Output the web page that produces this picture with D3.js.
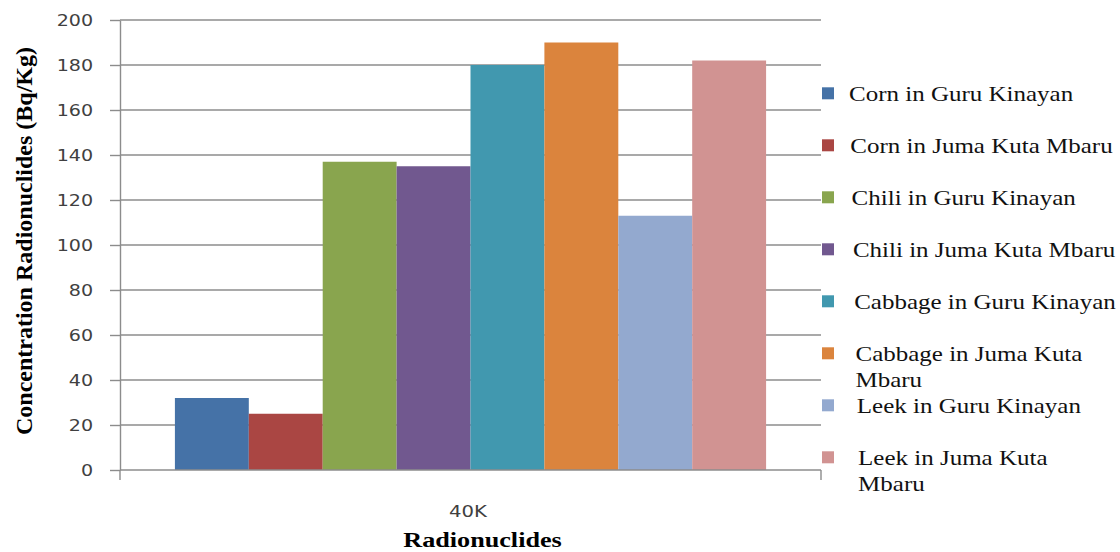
<!DOCTYPE html>
<html>
<head>
<meta charset="utf-8">
<script src="https://cdn.jsdelivr.net/npm/d3@7/dist/d3.min.js"></script>
<style>
  html, body { margin: 0; padding: 0; background: #fff; }
  svg { display: block; }
</style>
</head>
<body>
<svg id="chart" width="1120" height="552"></svg>
<script>
// Radionuclide concentration (40K) in crops from two villages
const categories = ["40K"];
const seriesNames = [
  "Corn in Guru Kinayan",
  "Corn in Juma Kuta Mbaru",
  "Chili in Guru Kinayan",
  "Chili in Juma Kuta Mbaru",
  "Cabbage in Guru Kinayan",
  "Cabbage in Juma Kuta Mbaru",
  "Leek in Guru Kinayan",
  "Leek in Juma Kuta Mbaru"
];
const values40K = [32, 25, 137, 135, 180, 190, 113, 182];
const yTicks = [0, 20, 40, 60, 80, 100, 120, 140, 160, 180, 200];
const seriesColors = ["#4572A7", "#AA4643", "#89A54E", "#71588F",
                      "#4198AF", "#DB843D", "#93A9CF", "#D19392"];

const svg = d3.select("#chart");
const plot = { left: 120, right: 821, top: 20, bottom: 470 };
const sx = 1.19;               // horizontal widening of the type
const gridColor = "#8c8c8c";
const serif = "'Liberation Serif', 'Times New Roman', serif";
const sans = "'DejaVu Sans', Verdana, sans-serif";

const y = d3.scaleLinear().domain([0, 200]).range([plot.bottom, plot.top]);
const x0 = d3.scaleBand().domain(categories).range([plot.left, plot.right])
  .paddingInner(0).paddingOuter(0);
const x1 = d3.scaleBand().domain(seriesNames).range([0, x0.bandwidth()])
  .paddingInner(0).paddingOuter(0.743);
const color = d3.scaleOrdinal().domain(seriesNames).range(seriesColors);

// horizontal gridlines
svg.append("g").selectAll("line").data(yTicks.filter(d => d > 0)).join("line")
  .attr("x1", plot.left).attr("x2", plot.right)
  .attr("y1", d => y(d)).attr("y2", d => y(d))
  .attr("stroke", gridColor).attr("stroke-width", 1.4);

// bars
const rows = categories.map((c, ci) => seriesNames.map((s, si) => ({ cat: c, series: s, value: values40K[si] })));
svg.append("g").selectAll("g").data(rows).join("g")
  .attr("transform", (d, i) => `translate(${x0(categories[i])},0)`)
  .selectAll("rect").data(d => d).join("rect")
  .attr("x", d => x1(d.series))
  .attr("width", x1.bandwidth())
  .attr("y", d => y(d.value))
  .attr("height", d => y(0) - y(d.value))
  .attr("fill", d => color(d.series));

// y axis
const yAxis = svg.append("g")
  .attr("transform", `translate(${plot.left},0)`)
  .call(d3.axisLeft(y).tickValues(yTicks).tickSize(10).tickSizeOuter(0).tickPadding(0));
yAxis.select(".domain").attr("stroke", gridColor).attr("stroke-width", 1.4);
yAxis.selectAll(".tick line").attr("stroke", gridColor).attr("stroke-width", 1.4);
yAxis.selectAll(".tick text")
  .attr("x", -27 / sx).attr("dy", "0.35em")
  .attr("transform", `scale(${sx},1)`)
  .style("font-family", sans).style("font-size", "16px").attr("fill", "#404040");

// x axis line with boundary ticks
const xAxis = svg.append("g");
xAxis.append("line")
  .attr("x1", plot.left).attr("x2", plot.right)
  .attr("y1", y(0)).attr("y2", y(0))
  .attr("stroke", gridColor).attr("stroke-width", 1.4);
xAxis.selectAll("line.tick").data(x0.range()).join("line")
  .attr("class", "tick")
  .attr("x1", d => d).attr("x2", d => d)
  .attr("y1", y(0)).attr("y2", y(0) + 10)
  .attr("stroke", gridColor).attr("stroke-width", 1.4);
xAxis.selectAll("text").data(categories).join("text")
  .attr("transform", d => `translate(${x0(d) + x0.bandwidth() / 2 - 2.5},${y(0) + 47}) scale(${sx},1)`)
  .attr("text-anchor", "middle")
  .style("font-family", sans).style("font-size", "16.5px").attr("fill", "#404040")
  .text(d => d);

// axis titles
svg.append("text")
  .attr("transform", `translate(482.5,547) scale(${sx},1)`)
  .attr("text-anchor", "middle")
  .style("font-family", serif).style("font-size", "22px").style("font-weight", "bold")
  .attr("fill", "#000")
  .text("Radionuclides");

svg.append("text")
  .attr("transform", "translate(32,241) rotate(-90)")
  .attr("text-anchor", "middle")
  .style("font-family", serif).style("font-size", "24px").style("font-weight", "bold")
  .attr("fill", "#000")
  .text("Concentration Radionuclides (Bq/Kg)");

// legend
const legendRightLimit = 1118;
const legend = svg.append("g");
const item = legend.selectAll("g").data(seriesNames).join("g")
  .attr("transform", (d, i) => `translate(0,${93.3 + i * 52})`);
item.append("rect")
  .attr("x", 822).attr("y", -6).attr("width", 12).attr("height", 12)
  .attr("fill", d => color(d));
item.each(function (name, i) {
  const tx = 849 + i * 1.3;
  const t = d3.select(this).append("text")
    .attr("transform", `translate(${tx},7.5) scale(${sx},1)`)
    .style("font-family", serif).style("font-size", "21px").attr("fill", "#111");
  // wrap words onto a second line when the label runs past the right edge
  const words = name.split(" ");
  let line = [];
  let lineNo = 0;
  let tspan = t.append("tspan").attr("x", 0).attr("dy", 0);
  words.forEach(w => {
    line.push(w);
    tspan.text(line.join(" "));
    if (tx + tspan.node().getComputedTextLength() * sx > legendRightLimit && line.length > 1) {
      line.pop();
      tspan.text(line.join(" "));
      line = [w];
      lineNo++;
      tspan = t.append("tspan").attr("x", 0).attr("dy", 26.5 / 1).text(w);
    }
  });
});
</script>
</body>
</html>
